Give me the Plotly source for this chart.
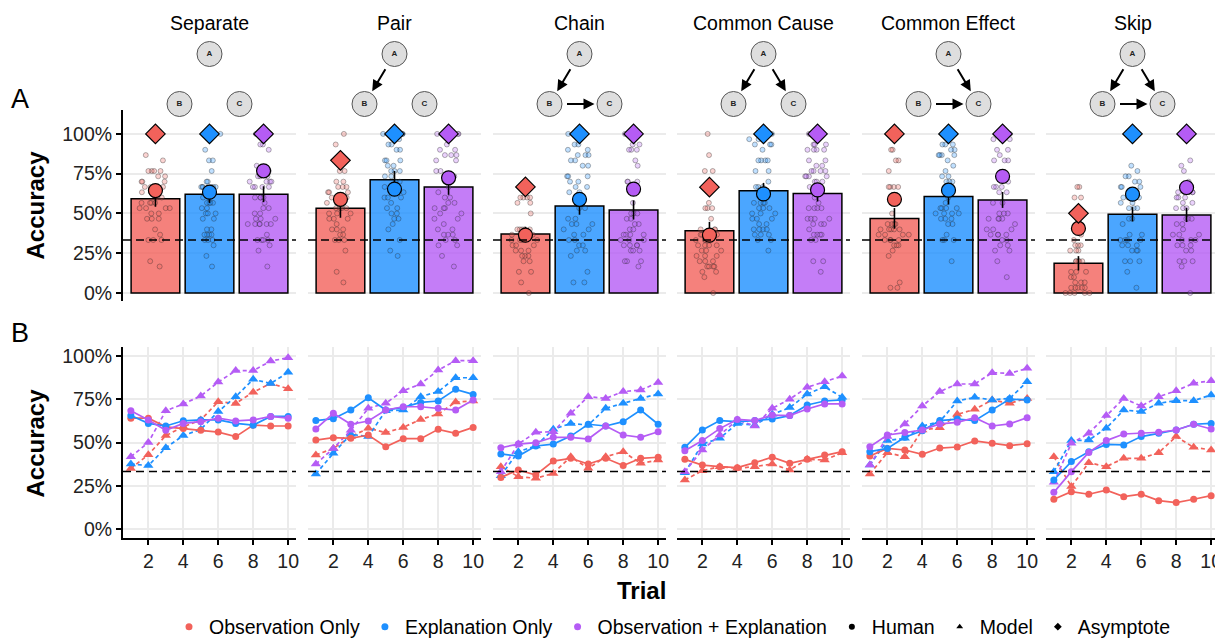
import plotly.graph_objects as go

# page body has an 8px default margin; the figure is sized to fill the rest of the window
PAGE_OFFSET = 8
FIG_W, FIG_H = 1223 - PAGE_OFFSET, 641 - PAGE_OFFSET

# ---------------- data ----------------
STRUCTURES = ["Separate", "Pair", "Chain", "Common Cause", "Common Effect", "Skip"]
CONDITIONS = ["Observation Only", "Explanation Only", "Observation + Explanation"]
COND_COLORS = ["#F2625B", "#1E90FF", "#B55CF5"]
TRIALS = [1, 2, 3, 4, 5, 6, 7, 8, 9, 10]
CHANCE = 1 / 3
Y_TICKS = [0, 0.25, 0.5, 0.75, 1.0]
Y_TICK_TEXT = ["0%", "25%", "50%", "75%", "100%"]
X_TICKS = [2, 4, 6, 8, 10]
N_QUESTIONS = 30

# Panel A: human mean accuracy (bars, %), standard error (%), model mean (circles, %), asymptote (diamonds, %)
bar_mean = [[59.2, 62.1, 62.1], [53.3, 71.2, 66.7], [37.1, 54.7, 52.2],
            [39.2, 64.2, 62.5], [46.9, 60.6, 58.5], [18.7, 49.5, 49.1]]
bar_se = [[5.0, 5.5, 5.0], [6.0, 5.5, 5.0], [4.5, 5.5, 6.0],
          [5.5, 5.0, 5.0], [6.5, 5.0, 5.0], [4.5, 4.5, 4.5]]
model_mean = [[64.4, 63.4, 76.8], [58.9, 65.3, 72.4], [36.4, 58.9, 65.3],
              [36.4, 62.3, 64.8], [58.9, 64.6, 73.3], [40.6, 62.1, 66.3]]
asymptote = [[100, 100, 100], [83.4, 100, 100], [66.7, 100, 100],
             [66.5, 100, 100], [100, 100, 100], [50.1, 100, 100]]

# individual participants: correct answers out of 30 (obs, exp, obs+exp)
scores_separate = [
    [26, 25, 23, 23, 23, 23, 22, 22, 21, 21, 21, 20, 20, 20, 20, 19, 19, 19, 18, 18, 17, 17, 17, 17, 16, 16, 16, 16, 15, 15, 14, 14, 14, 12, 11, 10, 10, 10, 6, 5],
    [30, 30, 30, 30, 30, 30, 27, 25, 25, 23, 21, 21, 20, 20, 20, 20, 20, 20, 19, 19, 19, 18, 18, 17, 17, 17, 17, 16, 16, 15, 15, 15, 14, 14, 12, 12, 11, 11, 11, 11, 10, 10, 10, 9, 7, 5],
    [30, 30, 30, 30, 28, 28, 27, 24, 23, 23, 22, 22, 22, 21, 21, 21, 21, 20, 20, 20, 20, 18, 18, 18, 18, 17, 16, 16, 15, 15, 14, 14, 14, 13, 13, 13, 13, 13, 13, 11, 10, 10, 10, 10, 9, 8, 5],
]
scores_pair = [
    [30, 28, 23, 23, 21, 21, 20, 20, 20, 19, 19, 19, 18, 18, 18, 18, 17, 17, 17, 16, 16, 16, 16, 15, 15, 15, 14, 14, 14, 13, 12, 12, 12, 11, 11, 10, 10, 10, 8, 4, 2],
    [30, 30, 30, 30, 30, 29, 28, 28, 27, 27, 25, 25, 25, 24, 24, 23, 23, 23, 22, 22, 21, 21, 20, 20, 20, 19, 19, 18, 18, 18, 17, 16, 16, 15, 15, 14, 14, 13, 12, 10, 8, 7],
    [30, 30, 30, 30, 28, 27, 27, 26, 26, 26, 25, 25, 23, 23, 22, 22, 21, 20, 19, 18, 18, 17, 17, 16, 16, 16, 15, 15, 14, 14, 13, 12, 12, 11, 11, 11, 10, 10, 9, 9, 7, 5],
]
scores_chain = [
    [20, 18, 18, 18, 18, 17, 17, 15, 12, 12, 12, 12, 12, 11, 11, 11, 11, 11, 10, 10, 10, 10, 10, 9, 9, 9, 8, 8, 8, 7, 7, 7, 6, 6, 4, 4, 2, 0],
    [30, 28, 28, 27, 27, 26, 26, 26, 25, 25, 24, 24, 22, 22, 22, 21, 21, 20, 20, 19, 19, 18, 18, 16, 16, 14, 14, 13, 13, 13, 12, 12, 11, 11, 10, 10, 9, 9, 8, 8, 7, 4, 2, 2],
    [30, 30, 28, 28, 27, 27, 27, 25, 24, 21, 21, 21, 20, 17, 15, 15, 15, 14, 14, 13, 13, 12, 12, 11, 11, 11, 11, 10, 10, 10, 9, 9, 9, 9, 8, 8, 8, 6, 6, 6, 5],
]
scores_common_cause = [
    [30, 26, 23, 23, 20, 17, 16, 16, 16, 14, 12, 12, 12, 11, 11, 11, 11, 10, 10, 10, 10, 10, 9, 9, 9, 9, 8, 8, 8, 7, 7, 7, 6, 6, 6, 5, 5, 5, 5, 4, 4, 3, 0],
    [30, 30, 30, 29, 29, 29, 28, 28, 28, 27, 25, 25, 25, 25, 23, 23, 21, 20, 20, 20, 19, 18, 17, 17, 17, 17, 16, 16, 16, 15, 15, 15, 14, 14, 14, 13, 13, 12, 12, 12, 12, 11, 11, 11, 10, 10, 8],
    [30, 30, 30, 28, 28, 28, 27, 27, 27, 27, 25, 25, 24, 24, 23, 23, 23, 23, 22, 22, 22, 22, 21, 21, 21, 20, 20, 18, 17, 16, 16, 16, 16, 14, 14, 14, 14, 13, 13, 13, 12, 11, 11, 11, 11, 10, 10, 6, 6, 4],
]
scores_common_effect = [
    [30, 27, 27, 25, 25, 23, 20, 20, 20, 20, 18, 15, 13, 13, 13, 13, 12, 12, 12, 12, 12, 11, 11, 11, 11, 10, 10, 10, 10, 9, 9, 9, 8, 7, 2, 1, 1],
    [30, 30, 28, 28, 28, 27, 27, 26, 26, 26, 26, 25, 24, 23, 22, 22, 21, 21, 21, 18, 17, 16, 16, 16, 16, 15, 15, 15, 15, 14, 14, 14, 13, 13, 11, 10, 10, 10, 6],
    [30, 29, 29, 29, 27, 27, 26, 25, 25, 25, 21, 20, 20, 20, 19, 19, 17, 17, 15, 15, 15, 14, 14, 14, 14, 13, 12, 12, 12, 11, 11, 11, 11, 10, 10, 9, 9, 8, 8, 6, 3],
]
scores_skip = [
    [20, 20, 18, 18, 11, 10, 9, 9, 9, 8, 8, 8, 6, 6, 6, 6, 6, 4, 4, 4, 3, 3, 2, 2, 2, 1, 1, 1, 1, 1, 0, 0, 0, 0, 0],
    [24, 23, 22, 22, 21, 21, 20, 20, 20, 18, 18, 18, 18, 17, 17, 16, 16, 16, 14, 14, 13, 11, 11, 10, 10, 10, 10, 9, 9, 9, 8, 8, 8, 6, 6, 6, 4, 1],
    [25, 24, 23, 21, 19, 19, 19, 18, 18, 18, 17, 17, 16, 16, 16, 14, 14, 14, 13, 13, 12, 11, 11, 11, 10, 10, 10, 9, 9, 9, 8, 8, 6, 6, 6, 5, 0],
]
SCORES = [scores_separate, scores_pair, scores_chain, scores_common_cause, scores_common_effect, scores_skip]

# Panel B: accuracy by trial (%), [obs, exp, obs+exp]
human_separate = [[64, 64, 59, 58, 57, 56, 53.4, 60, 59.5, 59.5],
                  [65.5, 61, 59.5, 62.5, 63, 63, 61, 60, 65, 65],
                  [68.3, 63, 57, 61, 62, 64, 62.4, 63, 65, 64]]
model_separate = [[35, 43, 54, 59, 63, 73.5, 72.5, 79, 84, 81],
                  [37.6, 36.7, 47, 54, 57.6, 67.8, 76.4, 86.4, 84, 90.4],
                  [41.8, 50, 68.3, 72.2, 76.8, 84.8, 91.4, 91.4, 96.9, 98.8]]
human_pair = [[51.4, 52.8, 52.4, 54.3, 47.6, 52.2, 52.2, 57.6, 55.3, 58.7],
              [62.6, 63.7, 68.7, 75.8, 68.7, 70.2, 73.1, 73.9, 80.6, 77.7],
              [57.8, 66.8, 60.5, 62.4, 68.7, 70.6, 70.6, 69.7, 68.7, 74.5]]
model_pair = [[42.8, 46.6, 53.4, 58.2, 55.7, 58.7, 63.3, 66.4, 73.3, 73.9],
              [31.9, 43.8, 54.7, 53.4, 68.3, 68.7, 76.4, 79.3, 87.3, 87.3],
              [37.6, 46.6, 57, 69.7, 72.6, 79.8, 83.7, 91.7, 97.1, 97.1]]
human_chain = [[29.9, 34.2, 31.3, 39.3, 40.9, 37.6, 40.9, 36.7, 40.9, 41.5],
               [43.4, 42.2, 48, 49.1, 53.7, 60.5, 59.5, 62, 68.7, 60.5],
               [47, 49.1, 49.9, 53, 53, 52, 59.5, 54.3, 53, 56.2]]
model_chain = [[36.1, 30.3, 29.4, 32.2, 41.8, 35.1, 41.8, 44.7, 38, 39.9],
               [30.9, 44.7, 48, 57.6, 61, 60, 69.7, 72.6, 75.4, 77.9],
               [33.2, 49.1, 55.9, 56.2, 66.8, 76.4, 75.4, 79.3, 80.2, 84.5]]
human_common_cause = [[40.3, 37, 36.1, 35.5, 38.4, 41.5, 38, 40.3, 42.8, 44.7],
                      [47.2, 57.2, 62.6, 62, 62.6, 63.5, 65.5, 71.6, 73.9, 74.5],
                      [45.3, 51.1, 58, 63.3, 62.6, 65.8, 65.5, 69.3, 72.2, 72.2]]
model_common_cause = [[28.4, 33.8, 36.1, 35.1, 36.1, 37.6, 34.2, 40.3, 39.9, 44.1],
                      [32.6, 49.1, 52.4, 61, 60, 66.2, 70.1, 77.9, 82.1, 76],
                      [33.2, 45.7, 54.3, 63, 59.5, 69.7, 74.9, 81.8, 85, 88.3]]
human_common_effect = [[42.2, 46.6, 45.7, 43.2, 46.8, 47.4, 50.9, 49.5, 48.2, 49.3],
                       [44.7, 46.6, 53, 56.8, 62.6, 63.5, 62.6, 68.7, 75, 74.5],
                       [47.6, 54.3, 55.7, 57.2, 60.7, 61.6, 64.3, 59.5, 60.7, 64.3]]
model_common_effect = [[31.9, 44.1, 41.8, 57.2, 58.5, 66.2, 69.1, 74.5, 72.6, 75.4],
                       [37, 51.1, 52.4, 59.5, 62, 73.9, 76, 74.5, 75.4, 85],
                       [37, 53.4, 60.7, 71, 79.3, 83.7, 83.7, 90.2, 89.8, 92.7]]
human_skip = [[17.3, 21.7, 20.2, 22.6, 18.8, 20.2, 16.5, 15.4, 17.3, 19.4],
              [28.4, 39, 44.7, 48.9, 48.6, 53.4, 55.3, 57.2, 60.5, 61],
              [21.3, 33.2, 44.3, 51.1, 54.9, 55.3, 55.9, 57.2, 60.5, 57.8]]
model_skip = [[41.8, 24.6, 38.4, 36.1, 40.9, 40.9, 44.1, 53.4, 47.2, 45.7],
              [33.2, 51.1, 51.4, 58.2, 68.7, 67.8, 72.6, 74.1, 74.1, 77.4],
              [27.1, 49.5, 55.3, 65.5, 75.4, 71, 76.4, 79.8, 84.1, 85.6]]
HUMAN_BY_TRIAL = [human_separate, human_pair, human_chain, human_common_cause, human_common_effect, human_skip]
MODEL_BY_TRIAL = [model_separate, model_pair, model_chain, model_common_cause, model_common_effect, model_skip]

# causal graphs
NODE_NAMES = ["A", "B", "C"]
NODE_X = [0, -1, 1]
NODE_Y = [1, 0, 0]
EDGES = [[], [("A", "B")], [("A", "B"), ("B", "C")], [("A", "B"), ("A", "C")],
         [("A", "C"), ("B", "C")], [("A", "B"), ("A", "C"), ("B", "C")]]

# ---------------- layout geometry (window pixels) ----------------
PANEL_LEFT_PX = [123, 308, 493, 677, 862, 1046]
PANEL_W_PX = 173
ROW_A_PX = (110, 301)
ROW_B_PX = (347, 538)
DIAG_PX = (38, 120)
FONT = "Liberation Sans, Arial, sans-serif"
TXT = 19.5


def px_x(p):
    return (p - PAGE_OFFSET) / FIG_W


def px_y(p):
    return 1 - (p - PAGE_OFFSET) / FIG_H


def rgba(hex_color, a):
    h = hex_color.lstrip("#")
    r, g, b = int(h[0:2], 16), int(h[2:4], 16), int(h[4:6], 16)
    return f"rgba({r},{g},{b},{a})"


fig = go.Figure()
layout = dict(
    width=FIG_W, height=FIG_H, margin=dict(l=0, r=0, t=0, b=0, autoexpand=False),
    plot_bgcolor="white", paper_bgcolor="white",
    font=dict(family=FONT, size=TXT, color="black"),
    boxmode="overlay", showlegend=True,
    legend=dict(orientation="h", x=px_x(672), xanchor="center", y=px_y(627), yanchor="middle",
                font=dict(size=19.5), itemwidth=30, tracegroupgap=0, bgcolor="rgba(0,0,0,0)"),
)
shapes, annotations = [], []


def yaxis_style(first, dom, rng, anchor):
    return dict(domain=dom, range=rng, anchor=anchor, tickvals=Y_TICKS, ticktext=Y_TICK_TEXT,
                showgrid=True, gridcolor="#ebebeb", gridwidth=1.5, zeroline=False,
                showline=first, linecolor="black", linewidth=2,
                ticks="outside" if first else "", ticklen=5, tickwidth=1.5, tickcolor="black",
                showticklabels=first, tickfont=dict(size=TXT, color="#222"), fixedrange=True,
                automargin=False)


for i, name in enumerate(STRUCTURES):
    xdom = [px_x(PANEL_LEFT_PX[i]), px_x(PANEL_LEFT_PX[i] + PANEL_W_PX)]
    na, nb, nd = i + 1, i + 7, i + 13
    ka = "" if na == 1 else str(na)
    xa, ya = f"x{ka}", f"y{ka}"
    xb, yb = f"x{nb}", f"y{nb}"
    xd, yd = f"x{nd}", f"y{nd}"

    # ----- row A axes -----
    layout[f"xaxis{ka}"] = dict(domain=xdom, anchor=ya, type="category", range=[-0.6, 2.6],
                                categoryorder="array", categoryarray=CONDITIONS,
                                showticklabels=False, ticks="", showline=False, showgrid=False,
                                zeroline=False, fixedrange=True, automargin=False)
    layout[f"yaxis{ka}"] = yaxis_style(i == 0, [px_y(ROW_A_PX[1]), px_y(ROW_A_PX[0])], [-0.05, 1.15], xa)

    # ----- row B axes -----
    layout[f"xaxis{nb}"] = dict(domain=xdom, anchor=yb, range=[0.55, 10.45], tickvals=X_TICKS,
                                showgrid=True, gridcolor="#ebebeb", gridwidth=1.5, zeroline=False,
                                showline=True, linecolor="black", linewidth=2,
                                ticks="outside", ticklen=5, tickwidth=1.5, tickcolor="black",
                                tickfont=dict(size=TXT, color="#222"), fixedrange=True, automargin=False)
    layout[f"yaxis{nb}"] = yaxis_style(i == 0, [px_y(ROW_B_PX[1]), px_y(ROW_B_PX[0])], [-0.05, 1.05], xb)

    # ----- diagram axes -----
    half = PANEL_W_PX / 60
    layout[f"xaxis{nd}"] = dict(domain=xdom, anchor=yd, range=[-half, half], visible=False, fixedrange=True)
    layout[f"yaxis{nd}"] = dict(domain=[px_y(DIAG_PX[1]), px_y(DIAG_PX[0])], anchor=xd,
                                range=[-0.32, 1.32], visible=False, fixedrange=True)

    # ----- row A traces -----
    fig.add_trace(go.Bar(
        x=CONDITIONS, y=[v / 100 for v in bar_mean[i]], width=0.9,
        marker=dict(color=[rgba(c, 0.8) for c in COND_COLORS], line=dict(color="black", width=1.5)),
        xaxis=xa, yaxis=ya, showlegend=False, hoverinfo="skip"))
    for c, cond in enumerate(CONDITIONS):
        vals = SCORES[i][c]
        fig.add_trace(go.Box(
            x=[cond] * len(vals), y=[v / N_QUESTIONS for v in vals],
            boxpoints="all", jitter=1.0, pointpos=0, width=0.6,
            fillcolor="rgba(0,0,0,0)", line=dict(width=0, color="rgba(0,0,0,0)"),
            marker=dict(size=5, color=rgba(COND_COLORS[c], 0.28),
                        line=dict(color="rgba(40,40,40,0.35)", width=1)),
            xaxis=xa, yaxis=ya, showlegend=False, hoverinfo="skip"))
    fig.add_trace(go.Scatter(
        x=CONDITIONS, y=[v / 100 for v in bar_mean[i]], mode="markers",
        marker=dict(size=2, color="rgba(0,0,0,0)"),
        error_y=dict(type="data", array=[v / 100 for v in bar_se[i]], color="black", thickness=1.6, width=0),
        xaxis=xa, yaxis=ya, showlegend=False, hoverinfo="skip"))
    fig.add_trace(go.Scatter(
        x=CONDITIONS, y=[v / 100 for v in model_mean[i]], mode="markers",
        marker=dict(size=14, color=COND_COLORS, line=dict(color="black", width=1.2)),
        xaxis=xa, yaxis=ya, showlegend=False, cliponaxis=False))
    fig.add_trace(go.Scatter(
        x=CONDITIONS, y=[v / 100 for v in asymptote[i]], mode="markers",
        marker=dict(size=15, symbol="diamond", color=COND_COLORS, line=dict(color="black", width=1.2)),
        xaxis=xa, yaxis=ya, showlegend=False, cliponaxis=False))

    # ----- row B traces -----
    for c, cond in enumerate(CONDITIONS):
        fig.add_trace(go.Scatter(
            x=TRIALS, y=[v / 100 for v in MODEL_BY_TRIAL[i][c]], mode="lines+markers",
            line=dict(color=COND_COLORS[c], width=1.7, dash="4px,3px"),
            marker=dict(symbol="triangle-up", size=9, color=COND_COLORS[c]),
            xaxis=xb, yaxis=yb, showlegend=False))
    for c, cond in enumerate(CONDITIONS):
        fig.add_trace(go.Scatter(
            x=TRIALS, y=[v / 100 for v in HUMAN_BY_TRIAL[i][c]], mode="lines+markers",
            line=dict(color=COND_COLORS[c], width=1.7),
            marker=dict(symbol="circle", size=7, color=COND_COLORS[c]),
            xaxis=xb, yaxis=yb, showlegend=False))

    # chance lines
    for xr, yr in ((xa, ya), (xb, yb)):
        shapes.append(dict(type="line", xref=f"{xr} domain", x0=0, x1=1, yref=yr, y0=CHANCE, y1=CHANCE,
                           line=dict(color="black", width=1.6, dash="8px,5px"), layer="above"))

    # ----- causal graph -----
    for src, tgt in EDGES[i]:
        s, t = NODE_NAMES.index(src), NODE_NAMES.index(tgt)
        annotations.append(dict(
            x=NODE_X[t], y=NODE_Y[t], ax=NODE_X[s], ay=NODE_Y[s],
            xref=xd, yref=yd, axref=xd, ayref=yd, text="", showarrow=True,
            arrowhead=2, arrowsize=1.1, arrowwidth=2, arrowcolor="black",
            standoff=15, startstandoff=16))
    fig.add_trace(go.Scatter(
        x=NODE_X, y=NODE_Y, mode="markers+text", text=[f"<b>{n}</b>" for n in NODE_NAMES],
        textposition="middle center", textfont=dict(size=8, color="#222"),
        marker=dict(size=25, color="#dedede", line=dict(color="#555", width=1)),
        xaxis=xd, yaxis=yd, showlegend=False, cliponaxis=False, hoverinfo="skip"))

    # panel title
    annotations.append(dict(x=(xdom[0] + xdom[1]) / 2, y=px_y(23), xref="paper", yref="paper",
                            text=name, showarrow=False, font=dict(size=TXT), xanchor="center", yanchor="middle"))

# axis titles and panel labels
for ycen in ((ROW_A_PX[0] + ROW_A_PX[1]) / 2, (ROW_B_PX[0] + ROW_B_PX[1]) / 2 + 1):
    annotations.append(dict(x=px_x(35), y=px_y(ycen), xref="paper", yref="paper", text="<b>Accuracy</b>",
                            textangle=-90, showarrow=False, font=dict(size=24), xanchor="center", yanchor="middle"))
annotations.append(dict(x=px_x(641), y=px_y(590), xref="paper", yref="paper", text="<b>Trial</b>",
                        showarrow=False, font=dict(size=24), xanchor="center", yanchor="middle"))
annotations.append(dict(x=px_x(20), y=px_y(99), xref="paper", yref="paper", text="A",
                        showarrow=False, font=dict(size=27), xanchor="center", yanchor="middle"))
annotations.append(dict(x=px_x(20), y=px_y(333), xref="paper", yref="paper", text="B",
                        showarrow=False, font=dict(size=27), xanchor="center", yanchor="middle"))

# legend entries
for c, cond in enumerate(CONDITIONS):
    fig.add_trace(go.Scatter(x=[None], y=[None], mode="markers", name=cond,
                             marker=dict(size=7, color=COND_COLORS[c]), xaxis="x7", yaxis="y7"))
for lab, sym in (("Human", "circle"), ("Model", "triangle-up"), ("Asymptote", "diamond")):
    fig.add_trace(go.Scatter(x=[None], y=[None], mode="markers", name=lab,
                             marker=dict(size=6, color="black", symbol=sym), xaxis="x7", yaxis="y7"))

layout["shapes"] = shapes
layout["annotations"] = annotations
fig.update_layout(**layout)
fig.write_html("out.html")
